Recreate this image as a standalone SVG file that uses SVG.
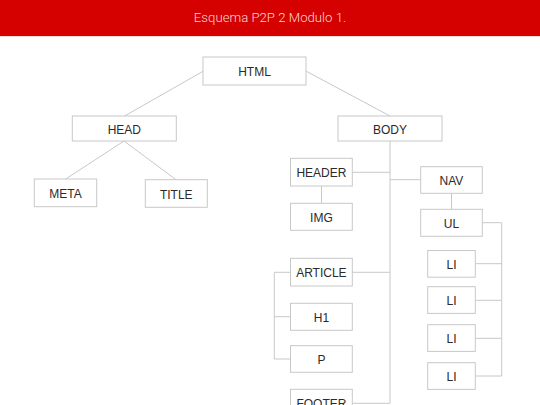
<svg xmlns="http://www.w3.org/2000/svg" width="540" height="405" viewBox="0 0 540 405">
<style>
.box{fill:#fff;stroke:#c8c8c8;stroke-width:1}
.lbl{font-family:"Liberation Sans",Arial,sans-serif;font-size:12px;fill:#2a2a2a;text-anchor:middle}
.con{fill:none;stroke:#c8c8c8;stroke-width:1}
.title{font-family:Roboto,"Liberation Sans",sans-serif;font-weight:300;font-size:13.2px;fill:#fad4d4;text-anchor:middle}
</style>
<rect x="0" y="0" width="540" height="405" fill="#fff"/>
<rect x="0" y="0" width="540" height="36" fill="#d50000"/>
<rect x="0" y="36" width="540" height="1" fill="#f6dcdc"/>
<text class="title" x="270" y="21.5">Esquema P2P 2 Modulo 1.</text>
<g id="connectors" class="con">
<line x1="203" y1="71.3" x2="124.6" y2="116"/>
<line x1="306.4" y1="71.3" x2="390" y2="116"/>
<line x1="124" y1="141" x2="65.7" y2="179"/>
<line x1="124" y1="141" x2="176" y2="179.7"/>
<line x1="390" y1="141" x2="390" y2="403.3"/>
<line x1="352.3" y1="172.3" x2="390" y2="172.3"/>
<line x1="390" y1="179.7" x2="420.7" y2="179.7"/>
<line x1="321.5" y1="186" x2="321.5" y2="203.3"/>
<line x1="451.5" y1="193.3" x2="451.5" y2="209.3"/>
<path d="M482.3 222.7H501.7V376H475.3"/>
<line x1="475.3" y1="263.7" x2="501.7" y2="263.7"/>
<line x1="475.3" y1="300.3" x2="501.7" y2="300.3"/>
<line x1="475.3" y1="338.3" x2="501.7" y2="338.3"/>
<line x1="352.3" y1="272.3" x2="390" y2="272.3"/>
<path d="M290.5 272.3H274.3V359H290.5"/>
<line x1="274.3" y1="316.7" x2="290.5" y2="316.7"/>
<line x1="352.3" y1="403.3" x2="390" y2="403.3"/>
</g>
<g id="html"><rect class="box" x="203" y="57" width="103" height="28"/><text class="lbl" x="254.5" y="76">HTML</text></g>
<g id="head"><rect class="box" x="72.3" y="116" width="104" height="25"/><text class="lbl" x="124.3" y="133.5">HEAD</text></g>
<g id="body"><rect class="box" x="338" y="116" width="104" height="25"/><text class="lbl" x="390" y="133.5">BODY</text></g>
<g id="meta"><rect class="box" x="34.3" y="179" width="62.4" height="27.7"/><text class="lbl" x="65.5" y="198">META</text></g>
<g id="title"><rect class="box" x="145.3" y="179.7" width="62" height="27.6"/><text class="lbl" x="176.3" y="198.6">TITLE</text></g>
<g id="header"><rect class="box" x="290.5" y="158.3" width="61.8" height="27.7"/><text class="lbl" x="321.4" y="177.4">HEADER</text></g>
<g id="img"><rect class="box" x="290.5" y="203.3" width="61.8" height="27"/><text class="lbl" x="321.4" y="222">IMG</text></g>
<g id="nav"><rect class="box" x="420.7" y="166.7" width="61.6" height="26.6"/><text class="lbl" x="451.5" y="185.2">NAV</text></g>
<g id="ul"><rect class="box" x="420.7" y="209.3" width="61.6" height="27"/><text class="lbl" x="451.5" y="228">UL</text></g>
<g id="li1"><rect class="box" x="427.7" y="250.5" width="47.6" height="26.7"/><text class="lbl" x="451.5" y="269">LI</text></g>
<g id="li2"><rect class="box" x="427.7" y="286.7" width="47.6" height="26.7"/><text class="lbl" x="451.5" y="305.2">LI</text></g>
<g id="li3"><rect class="box" x="427.7" y="324.7" width="47.6" height="26.7"/><text class="lbl" x="451.5" y="343.2">LI</text></g>
<g id="li4"><rect class="box" x="427.7" y="362.7" width="47.6" height="26.7"/><text class="lbl" x="451.5" y="381.2">LI</text></g>
<g id="article"><rect class="box" x="290.5" y="258.3" width="61.8" height="27.7"/><text class="lbl" x="321.4" y="277.3">ARTICLE</text></g>
<g id="h1"><rect class="box" x="290.5" y="303.3" width="61.8" height="27"/><text class="lbl" x="321.4" y="322">H1</text></g>
<g id="p"><rect class="box" x="290.5" y="345.7" width="61.8" height="26.6"/><text class="lbl" x="321.4" y="364.2">P</text></g>
<g id="footer"><rect class="box" x="290.5" y="389.3" width="61.8" height="27.7"/><text class="lbl" x="321.4" y="408.3">FOOTER</text></g>
</svg>
